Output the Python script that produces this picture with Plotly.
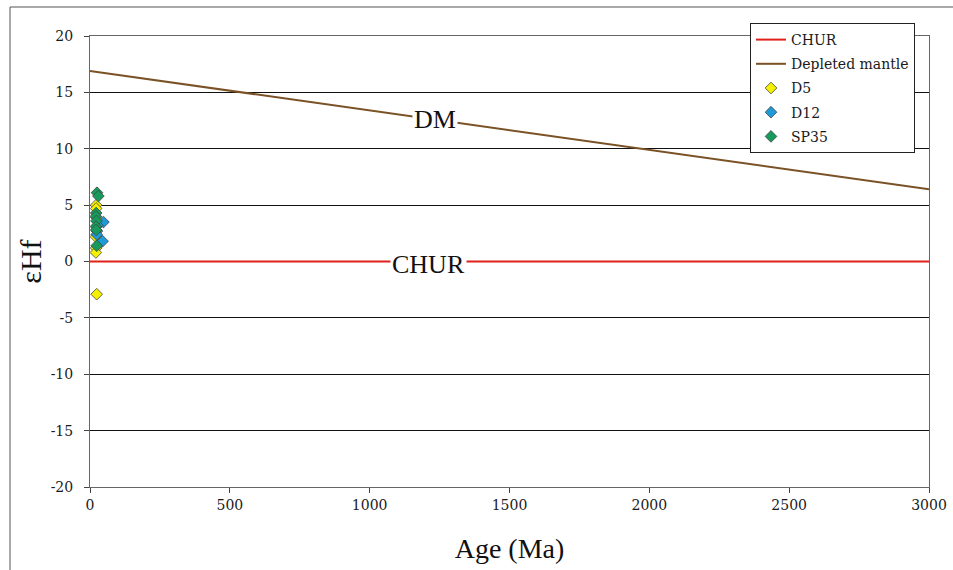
import plotly.graph_objects as go

# Reference curves (age in Ma, epsilon Hf)
chur_age = [0, 3000]
chur_ehf = [0, 0]
dm_age = [0, 3000]
dm_ehf = [16.9, 6.4]

# Zircon data
d5_age = [22, 22, 23, 21, 22, 21, 24]
d5_ehf = [5.0, 4.7, 3.9, 2.2, 1.2, 0.8, -2.9]
d12_age = [48, 45, 25, 27, 24]
d12_ehf = [3.5, 1.8, 2.7, 3.2, 2.4]
sp35_age = [25, 30, 22, 21, 23, 21, 22, 24]
sp35_ehf = [6.1, 5.8, 4.3, 4.0, 3.6, 3.1, 2.8, 1.4]

y_ticks = list(range(-20, 21, 5))
y_labels = [str(v) for v in y_ticks]
x_ticks = list(range(0, 3001, 500))

serif = "Liberation Serif"
tickfont = dict(family="DejaVu Serif", size=14, color="#1a1a1a")

fig = go.Figure()
fig.add_trace(go.Scatter(x=chur_age, y=chur_ehf, mode="lines", name="CHUR",
                         line=dict(color="#E0201B", width=2), legendgroup="a"))
fig.add_trace(go.Scatter(x=dm_age, y=dm_ehf, mode="lines", name="Depleted mantle",
                         line=dict(color="#7A5226", width=2), legendgroup="b"))
mk = dict(symbol="diamond", size=9, line=dict(color="#444", width=0.8))
fig.add_trace(go.Scatter(x=d5_age, y=d5_ehf, mode="markers", name="D5",
                         marker=dict(color="#F5F000", **mk), legendgroup="c"))
fig.add_trace(go.Scatter(x=d12_age, y=d12_ehf, mode="markers", name="D12",
                         marker=dict(color="#1E9AD6", **mk), legendgroup="d"))
fig.add_trace(go.Scatter(x=sp35_age, y=sp35_ehf, mode="markers", name="SP35",
                         marker=dict(color="#179A5C", **mk), legendgroup="e"))

fig.add_annotation(x=1235, y=16.9 + (6.4 - 16.9) * 1235 / 3000, text="DM", showarrow=False,
                   font=dict(family=serif, size=26, color="#111"), bgcolor="white",
                   borderpad=1)
fig.add_annotation(x=1210, y=-0.3, text="CHUR", showarrow=False,
                   font=dict(family=serif, size=26, color="#111"), bgcolor="white",
                   borderpad=1)

# outer chart frame
fx = (10 - 90) / 839
fy = (487 - 7) / 451
fig.add_shape(type="line", xref="paper", yref="paper", x0=fx, x1=fx, y0=fy, y1=-0.3,
              line=dict(color="#555", width=1))
fig.add_shape(type="line", xref="paper", yref="paper", x0=fx, x1=1.1, y0=fy, y1=fy,
              line=dict(color="#555", width=1))

fig.update_layout(
    width=953, height=570,
    margin=dict(l=90, r=24, t=36, b=83, autoexpand=False),
    paper_bgcolor="white", plot_bgcolor="white",
    showlegend=True,
    legend=dict(x=(750 - 90) / 839, y=(487 - 23) / 451, xanchor="left", yanchor="top",
                bgcolor="white", bordercolor="#222", borderwidth=1,
                font=dict(family="DejaVu Serif", size=14, color="#1a1a1a"),
                traceorder="grouped", tracegroupgap=3),
    xaxis=dict(range=[0, 3000], tickvals=x_ticks, showgrid=False, zeroline=False,
               showline=True, linecolor="#666", linewidth=1, mirror=True, automargin=False,
               ticks="outside", ticklen=5, tickcolor="#444", tickfont=tickfont,
               title=dict(text="Age (Ma)", font=dict(family=serif, size=28, color="#111"),
                          standoff=26)),
    yaxis=dict(range=[-20, 20], tickvals=y_ticks, ticktext=y_labels, showgrid=True,
               gridcolor="#111", gridwidth=1, zeroline=False, automargin=False,
               showline=True, linecolor="#666", linewidth=1, mirror=True,
               ticks="outside", ticklen=5, tickcolor="#444", tickfont=tickfont,
               ticklabelstandoff=8,
               title=dict(text="εHf", font=dict(family=serif, size=30, color="#111"),
                          standoff=0)),
)

fig.write_html("out.html")
